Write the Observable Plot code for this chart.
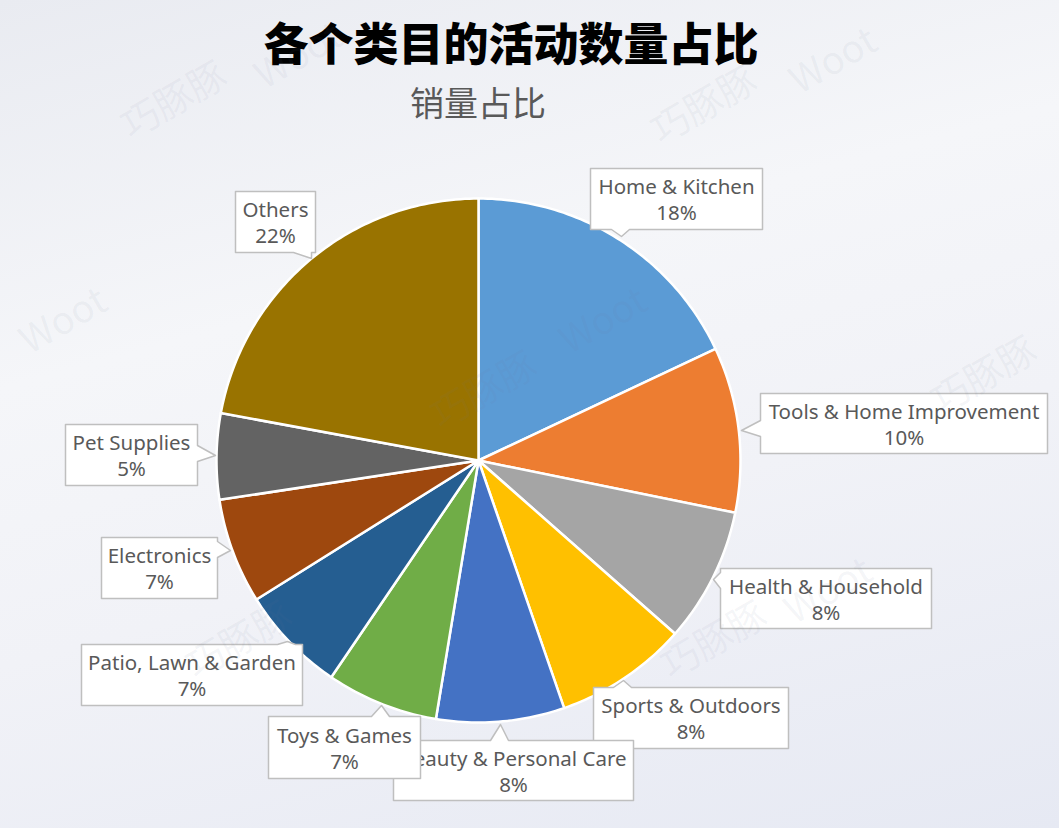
<!DOCTYPE html>
<html>
<head>
<meta charset="utf-8">
<script src="https://cdn.jsdelivr.net/npm/d3@7"></script>
<script src="https://cdn.jsdelivr.net/npm/@observablehq/plot@0.6"></script>
<style>
  html, body { margin: 0; padding: 0; }
  body {
    width: 1059px; height: 828px; overflow: hidden; position: relative;
    background: linear-gradient(165deg, #e9ebf1 0%, #f5f6f9 35%, #f1f2f7 60%, #e6e9f3 100%);
    font-family: "Noto Sans", "Noto Sans CJK SC", sans-serif;
  }
  #header { position: relative; height: 130px; }
  #title {
    position: absolute; left: 511px; top: 13px; transform: translateX(-50%);
    font-family: "Noto Sans CJK SC", sans-serif; font-weight: 900; font-size: 45px;
    line-height: 58px; color: #000; white-space: nowrap;
  }
  #subtitle {
    position: absolute; left: 478px; top: 80px; transform: translateX(-50%);
    font-family: "Noto Sans CJK SC", sans-serif; font-weight: 400; font-size: 34px;
    line-height: 44px; color: #595959; white-space: nowrap;
  }
  #chart svg { display: block; background: transparent; }
  .wm {
    position: absolute; font-family: "Noto Sans CJK SC", sans-serif; font-size: 38px;
    color: rgba(110, 120, 150, 0.07); transform: rotate(-30deg); white-space: nowrap;
    pointer-events: none;
  }
</style>
</head>
<body>
<div id="header">
  <div id="title">各个类目的活动数量占比</div>
  <div id="subtitle">销量占比</div>
</div>
<div id="chart"></div>
<div class="wm" style="left:115px;top:70px">巧豚豚</div>
<div class="wm" style="left:250px;top:25px">Woot</div>
<div class="wm" style="left:645px;top:75px">巧豚豚</div>
<div class="wm" style="left:785px;top:30px">Woot</div>
<div class="wm" style="left:15px;top:290px">Woot</div>
<div class="wm" style="left:555px;top:290px">Woot</div>
<div class="wm" style="left:925px;top:345px">巧豚豚</div>
<div class="wm" style="left:425px;top:360px">巧豚豚</div>
<div class="wm" style="left:655px;top:610px">巧豚豚</div>
<div class="wm" style="left:780px;top:560px">Woot</div>
<div class="wm" style="left:180px;top:610px">巧豚豚</div>
<script>
// ---- Data ----
const categories = [
  "Home & Kitchen", "Tools & Home Improvement", "Health & Household",
  "Sports & Outdoors", "Beauty & Personal Care", "Toys & Games",
  "Patio, Lawn & Garden", "Electronics", "Pet Supplies", "Others"
];
const shares = [18.0, 10.2, 8.3, 8.2, 7.9, 6.9, 6.6, 6.5, 5.3, 22.1];
const colors = ["#5b9bd5", "#ed7d31", "#a5a5a5", "#ffc000", "#4472c4",
                "#70ad47", "#255e91", "#9e480e", "#636363", "#997300"];

// ---- Layout (page pixel coordinates) ----
const W = 1059, TOP = 130, H = 828 - TOP;
const CX = 478, CY = 460, R = 262;
// callout boxes: [x1, y1, x2, y2, tipX, tipY]
const labelBoxes = [
  [590, 168, 762, 229, 621, 236],
  [760, 393, 1047, 453, 741, 430],
  [720, 568, 931, 628, 713, 579],
  [593, 687, 788, 748, 623, 680],
  [393, 740, 633, 800, 500, 724],
  [268, 716, 420, 778, 381, 705],
  [81, 644, 302, 705, 287, 641],
  [101, 537, 217, 598, 230, 550],
  [65, 424, 197, 485, 215, 455],
  [235, 191, 315, 252, 311, 258]
];

// ---- Pie geometry via d3.pie ----
const total = d3.sum(shares);
const arcs = d3.pie().sort(null).value(d => d)(shares);
const slicePts = [];
arcs.forEach((a, i) => {
  const name = categories[i];
  slicePts.push({name, x: CX, y: CY});
  const n = Math.max(2, Math.ceil((a.endAngle - a.startAngle) / (Math.PI / 180)));
  for (let k = 0; k <= n; k++) {
    const t = a.startAngle + (a.endAngle - a.startAngle) * k / n;
    slicePts.push({name, x: CX + R * Math.sin(t), y: CY - R * Math.cos(t)});
  }
});

// ---- Callout polygons ----
function callout(i) {
  const [x1, y1, x2, y2, tx, ty] = labelBoxes[i];
  const clamp = (v, lo, hi) => Math.max(lo, Math.min(hi, v));
  let pts;
  if (ty < y1) {
    const s = clamp(tx - 10, x1 + 4, x2 - 22);
    pts = [[x1, y1], [s, y1], [tx, ty], [s + 18, y1], [x2, y1], [x2, y2], [x1, y2]];
  } else if (ty > y2) {
    const s = clamp(tx - 10, x1 + 4, x2 - 22);
    pts = [[x1, y1], [x2, y1], [x2, y2], [s + 18, y2], [tx, ty], [s, y2], [x1, y2]];
  } else if (tx < x1) {
    const s = clamp(ty - 10, y1 + 4, y2 - 20);
    pts = [[x1, y1], [x2, y1], [x2, y2], [x1, y2], [x1, s + 16], [tx, ty], [x1, s]];
  } else {
    const s = clamp(ty - 10, y1 + 4, y2 - 20);
    pts = [[x1, y1], [x2, y1], [x2, s], [tx, ty], [x2, s + 16], [x2, y2], [x1, y2]];
  }
  return pts.map(([x, y]) => ({name: categories[i], x, y}));
}

const labels = categories.map((name, i) => {
  const [x1, y1, x2, y2] = labelBoxes[i];
  return {
    name,
    text: `${name}\n${Math.round(shares[i] / total * 100)}%`,
    x: (x1 + x2) / 2,
    y: (y1 + y2) / 2
  };
});

const labelMarks = categories.flatMap((name, i) => [
  Plot.line(callout(i), {x: "x", y: "y", curve: "linear-closed",
    fill: "white", stroke: "#bfbfbf", strokeWidth: 1.5}),
  Plot.text([labels[i]], {x: "x", y: "y", text: "text",
    fontSize: 20.5, lineHeight: 1.27, fill: "#595959",
    fontFamily: "'Noto Sans', sans-serif"})
]);

const chart = Plot.plot({
  width: W,
  height: H,
  margin: 0,
  x: {domain: [0, W], range: [0, W], axis: null},
  y: {domain: [828, TOP], axis: null},
  color: {domain: categories, range: colors},
  style: {background: "transparent", overflow: "visible"},
  marks: [
    Plot.line(slicePts, {x: "x", y: "y", z: "name", fill: "name",
      stroke: "white", strokeWidth: 2.5, strokeLinejoin: "round", curve: "linear-closed"}),
    ...labelMarks
  ]
});
document.getElementById("chart").appendChild(chart);
</script>
</body>
</html>
